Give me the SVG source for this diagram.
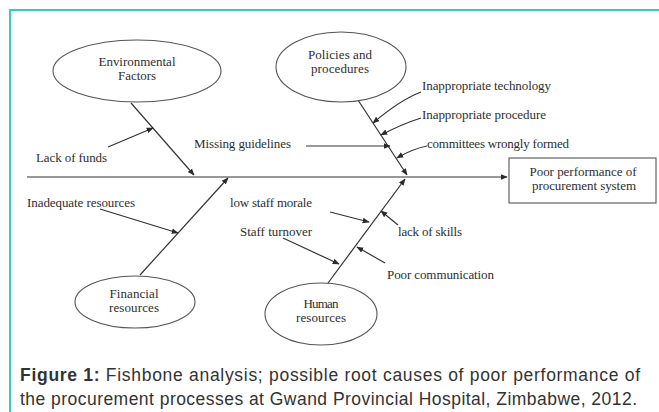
<svg xmlns="http://www.w3.org/2000/svg" width="659" height="412" viewBox="0 0 659 412">
<defs>
<marker id="ah" viewBox="0 0 10 10" refX="9" refY="5" markerWidth="7" markerHeight="7" markerUnits="userSpaceOnUse" orient="auto"><path d="M0,1 L10,5 L0,9 Z" fill="#2a2a2a"/></marker>
<style>
.t{font-family:"Liberation Serif",serif;font-size:13px;fill:#2e2e2e;}
.c{text-anchor:middle;}
.ar{stroke:#333;stroke-width:1.2;fill:none;marker-end:url(#ah);}
.el{fill:#fff;stroke:#555;stroke-width:1.1;}
.cap{font-family:"Liberation Sans",Arial,sans-serif;font-size:17.5px;fill:#333;}
</style>
</defs>
<rect width="659" height="412" fill="#fff"/>
<path d="M10,412 V10 H659" stroke="#40c9b5" stroke-width="2" fill="none"/>

<g id="connectors">
<line class="ar" x1="27" y1="177" x2="507" y2="177"/>
<line class="ar" x1="131" y1="103" x2="194" y2="175"/>
<line class="ar" x1="140" y1="275" x2="228" y2="178"/>
<line class="ar" x1="356" y1="97" x2="407" y2="175"/>
<line class="ar" x1="328" y1="283" x2="405" y2="179"/>
<line class="ar" x1="108" y1="147" x2="153" y2="128"/>
<line class="ar" x1="306" y1="146" x2="390" y2="146"/>
<line class="ar" x1="100" y1="209" x2="178" y2="233"/>
<path class="ar" d="M421,92 Q400,100 373,123"/>
<path class="ar" d="M421,118 Q402,124 381,135"/>
<path class="ar" d="M427,146 Q412,149 397,158"/>
<line class="ar" x1="330" y1="212" x2="369" y2="222"/>
<line class="ar" x1="283" y1="238" x2="339" y2="264"/>
<line class="ar" x1="398" y1="225" x2="381" y2="211"/>
<line class="ar" x1="385" y1="263" x2="357" y2="247"/>
</g>

<g id="environmental">
<ellipse class="el" cx="137" cy="71" rx="84" ry="31"/>
<text class="t c" x="137" y="66" textLength="77">Environmental</text>
<text class="t c" x="137" y="80" textLength="38">Factors</text>
</g>
<g id="policies">
<ellipse class="el" cx="341" cy="67" rx="65" ry="35"/>
<text class="t c" x="340" y="59" textLength="64">Policies and</text>
<text class="t c" x="340" y="73" textLength="58">procedures</text>
</g>
<g id="financial">
<ellipse class="el" cx="135" cy="302" rx="60" ry="26"/>
<text class="t c" x="134" y="298" textLength="49">Financial</text>
<text class="t c" x="134" y="312" textLength="50">resources</text>
</g>
<g id="human">
<ellipse class="el" cx="321" cy="314" rx="56" ry="31"/>
<text class="t c" x="321" y="308" textLength="35">Human</text>
<text class="t c" x="321" y="322" textLength="50">resources</text>
</g>
<g id="effect">
<rect x="509" y="158" width="147" height="45" fill="#fff" stroke="#555" stroke-width="1.1"/>
<text class="t c" x="583" y="176" textLength="107">Poor performance of</text>
<text class="t c" x="584" y="190" textLength="104">procurement system</text>
</g>
<g id="causes">
<text class="t" x="422" y="90" textLength="129">Inappropriate technology</text>
<text class="t" x="422" y="119" textLength="124">Inappropriate procedure</text>
<text class="t" x="427" y="148" textLength="142">committees wrongly formed</text>
<text class="t" x="194" y="148" textLength="97">Missing guidelines</text>
<text class="t" x="36" y="162" textLength="71">Lack of funds</text>
<text class="t" x="27" y="207" textLength="108">Inadequate resources</text>
<text class="t" x="230" y="207" textLength="82">low staff morale</text>
<text class="t" x="240" y="236" textLength="72">Staff turnover</text>
<text class="t" x="398" y="236" textLength="64">lack of skills</text>
<text class="t" x="387" y="279" textLength="107">Poor communication</text>
</g>
<g id="caption">
<text class="cap" x="20" y="381" textLength="620" lengthAdjust="spacing"><tspan font-weight="bold">Figure 1:</tspan> Fishbone analysis; possible root causes of poor performance of</text>
<text class="cap" x="20" y="405" textLength="617" lengthAdjust="spacing">the procurement processes at Gwand Provincial Hospital, Zimbabwe, 2012.</text>
</g>
</svg>
